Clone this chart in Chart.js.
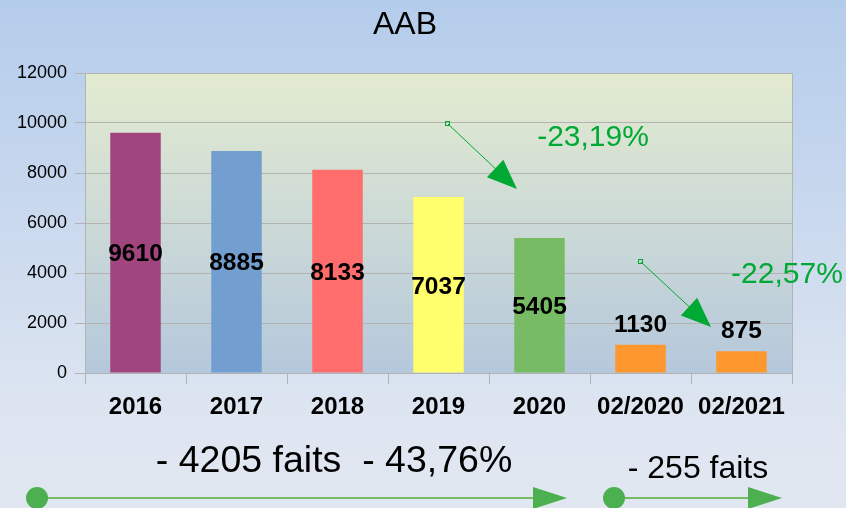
<!DOCTYPE html>
<html>
<head>
<meta charset="utf-8">
<script src="https://cdn.jsdelivr.net/npm/chart.js@4"></script>
<style>
html,body{margin:0;padding:0;}
body{width:846px;height:508px;overflow:hidden;background:linear-gradient(to bottom,#b4cceb 0%,#dfe6f1 85%,#e0e7f1 100%);}
canvas{display:block;}
</style>
</head>
<body>
<canvas id="c" width="846" height="508"></canvas>
<script>
const categories = ['2016','2017','2018','2019','2020','02/2020','02/2021'];
const values = [9610, 8885, 8133, 7037, 5405, 1130, 875];
const barColors = ['#a0457e','#729fcf','#ff6d6d','#ffff6d','#77bc65','#ff972f','#ff972f'];
const yTicks = [0, 2000, 4000, 6000, 8000, 10000, 12000];
const chartTitle = 'AAB';
const pctNotes = [
  {text:'-23,19%', x:4.53, y:9400},
  {text:'-22,57%', x:6.45, y:3920}
];
// arrows in (category index, value) units
const pctArrows = [
  {from:[3.094, 9960], to:[3.777, 7360]},
  {from:[5.005, 4440], to:[5.698, 1840]}
];
const bottomNotes = [
  {text:'- 4205 faits  - 43,76%', size:37.5, cx:334, cy:462},
  {text:'- 255 faits', size:32, cx:698, cy:469}
];

const FONT = '"Liberation Sans", Arial, sans-serif';

const bgPlugin = {
  id:'bg',
  beforeDraw(chart){
    const {ctx, chartArea:a} = chart;
    ctx.save();
    const g = ctx.createLinearGradient(0,a.top,0,a.bottom);
    g.addColorStop(0,'#e3ebd0');
    g.addColorStop(1,'#b5c8dc');
    ctx.fillStyle = g;
    ctx.fillRect(a.left,a.top,a.right-a.left,a.bottom-a.top);
    ctx.strokeStyle = '#b3b3b3';
    ctx.lineWidth = 1;
    ctx.beginPath();
    ctx.moveTo(a.right+0.5,a.top);
    ctx.lineTo(a.right+0.5,a.bottom);
    ctx.stroke();
    // title
    ctx.fillStyle = '#000';
    ctx.font = '32px ' + FONT;
    ctx.textAlign = 'center';
    ctx.textBaseline = 'middle';
    ctx.fillText(chartTitle, 405, 25);
    ctx.restore();
  }
};

function arrowHead(ctx, x0,y0,x1,y1,len,half){
  const ang = Math.atan2(y1-y0,x1-x0);
  const bx = x1 - Math.cos(ang)*len, by = y1 - Math.sin(ang)*len;
  ctx.beginPath();
  ctx.moveTo(x1,y1);
  ctx.lineTo(bx + Math.sin(ang)*half, by - Math.cos(ang)*half);
  ctx.lineTo(bx - Math.sin(ang)*half, by + Math.cos(ang)*half);
  ctx.closePath();
  ctx.fill();
}

const annPlugin = {
  id:'ann',
  afterDatasetsDraw(chart){
    const {ctx, scales:{x, y}} = chart;
    const meta = chart.getDatasetMeta(0);
    const step = x.getPixelForValue(1) - x.getPixelForValue(0);
    const px = v => x.getPixelForValue(0) + v*step;
    ctx.save();
    // value labels
    ctx.font = 'bold 24.5px ' + FONT;
    ctx.fillStyle = '#000';
    ctx.textAlign = 'center';
    ctx.textBaseline = 'middle';
    meta.data.forEach((bar,i)=>{
      const v = values[i];
      let ly;
      if (v > 3000) ly = (bar.y + bar.base)/2 + 2;
      else ly = bar.y - 20;
      ctx.fillText(String(v), bar.x, ly);
    });
    // percentage notes
    ctx.font = '30px ' + FONT;
    ctx.fillStyle = '#00a933';
    pctNotes.forEach(n=>{
      ctx.fillText(n.text, px(n.x), y.getPixelForValue(n.y));
    });
    // arrows
    ctx.strokeStyle = '#00a933';
    ctx.fillStyle = '#00a933';
    ctx.lineWidth = 1;
    pctArrows.forEach(a=>{
      const x0 = px(a.from[0]), y0 = y.getPixelForValue(a.from[1]);
      const x1 = px(a.to[0]), y1 = y.getPixelForValue(a.to[1]);
      ctx.beginPath();
      ctx.moveTo(x0,y0);
      ctx.lineTo(x1 - (x1-x0)*0.3, y1 - (y1-y0)*0.3);
      ctx.stroke();
      ctx.strokeRect(Math.round(x0)-2.5, Math.round(y0)-2.5, 4, 4);
      arrowHead(ctx, x0,y0,x1,y1,30,12);
    });
    ctx.restore();
  },
  afterDraw(chart){
    const ctx = chart.ctx;
    ctx.save();
    ctx.fillStyle = '#000';
    ctx.textAlign = 'center';
    ctx.textBaseline = 'middle';
    bottomNotes.forEach(n=>{
      ctx.font = n.size + 'px ' + FONT;
      ctx.fillText(n.text, n.cx, n.cy);
    });
    const lines = [[37, 567],[614, 782]];
    lines.forEach(([a,b])=>{
      ctx.strokeStyle = '#77bc65';
      ctx.lineWidth = 2;
      ctx.beginPath();
      ctx.moveTo(a, 498);
      ctx.lineTo(b-30, 498);
      ctx.stroke();
      ctx.fillStyle = '#4cb050';
      ctx.beginPath();
      ctx.ellipse(a, 498, 11, 11, 0, 0, Math.PI*2);
      ctx.fill();
      ctx.beginPath();
      ctx.moveTo(b, 498);
      ctx.lineTo(b-34, 487);
      ctx.lineTo(b-34, 509);
      ctx.closePath();
      ctx.fill();
    });
    ctx.restore();
  }
};

new Chart(document.getElementById('c'), {
  type:'bar',
  data:{
    labels: categories,
    datasets:[{
      data: values,
      backgroundColor: barColors,
      borderWidth: 0,
      barPercentage: 0.5,
      categoryPercentage: 1.0
    }]
  },
  options:{
    responsive:false,
    animation:false,
    devicePixelRatio:1,
    layout:{padding:{top:73, right:54, left:0, bottom:0}},
    plugins:{legend:{display:false}, title:{display:false}, tooltip:{enabled:false}},
    scales:{
      x:{
        offset:true,
        grid:{offset:true, drawOnChartArea:false, drawTicks:true, tickLength:11, color:'#b3b3b3'},
        border:{color:'#b3b3b3'},
        ticks:{color:'#000', font:{family:FONT, size:24, weight:'bold'}, padding:9, maxRotation:0, autoSkip:false},
        afterFit(s){ s.height = 135; }
      },
      y:{
        min:0, max:12000,
        afterBuildTicks(s){ s.ticks = yTicks.map(v=>({value:v})); },
        grid:{color:'#b3b3b3', tickLength:10, drawTicks:true},
        border:{color:'#b3b3b3'},
        ticks:{color:'#000', font:{family:FONT, size:18}, padding:8, callback:(v)=>String(v)},
        afterFit(s){ s.width = 85; }
      }
    }
  },
  plugins:[bgPlugin, annPlugin]
});
</script>
</body>
</html>
